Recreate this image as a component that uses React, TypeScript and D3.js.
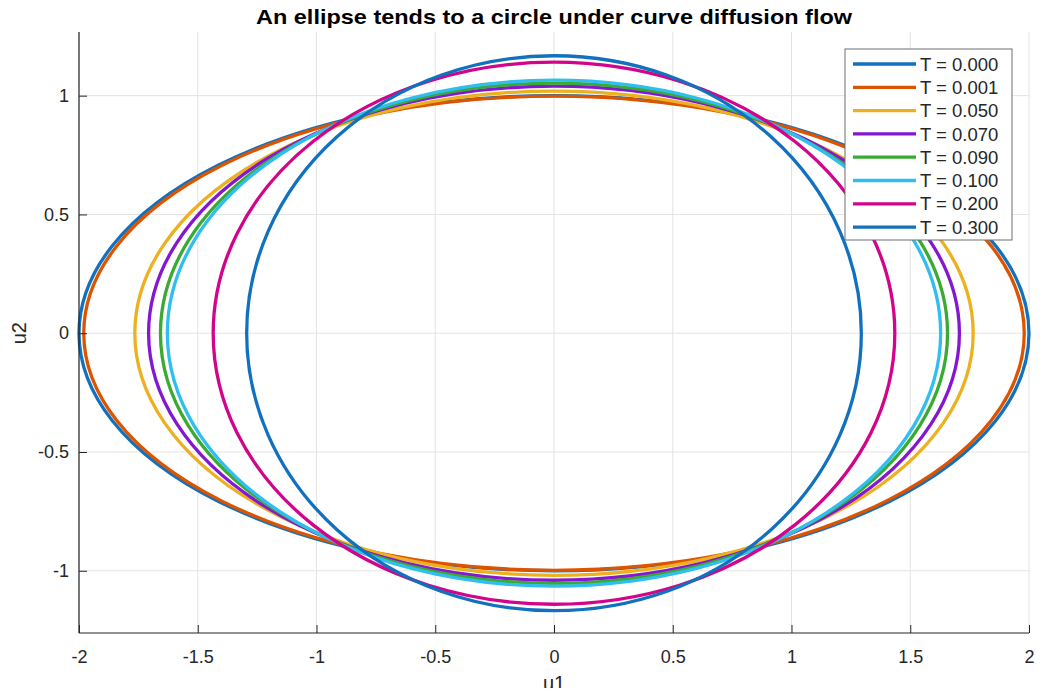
import { useEffect, useRef } from 'react';
import * as d3 from 'd3';

// times of each snapshot and the semi-axes
const times = [0.0, 0.001, 0.05, 0.07, 0.09, 0.1, 0.2, 0.3];
const semiU1 = [2.0, 1.98, 1.765, 1.707, 1.657, 1.628, 1.435, 1.294];
const semiU2 = [1.0, 0.998, 1.019, 1.04, 1.053, 1.065, 1.141, 1.168];
const colors = ['#1171BE', '#DD5400', '#EDB120', '#8516D1', '#3BAA32', '#2FBEEF', '#D1048B', '#1171BE'];

const xTicks = [-2, -1.5, -1, -0.5, 0, 0.5, 1, 1.5, 2];
const yTicks = [-1, -0.5, 0, 0.5, 1];

export default function App() {
  const svgRef = useRef<SVGSVGElement>(null);

  useEffect(() => {
    const width = 1043;
    const height = 696;
    const margin = { top: 32, right: 14, bottom: 63, left: 79 };
    const innerWidth = width - margin.left - margin.right;
    const innerHeight = height - margin.top - margin.bottom;
    const font = "'Liberation Sans', Arial, sans-serif";

    const svg = d3.select(svgRef.current)
      .attr('width', width)
      .attr('height', height);
    svg.selectAll('*').remove();

    const chart = svg.append('g')
      .attr('transform', `translate(${margin.left},${margin.top})`);

    const xScale = d3.scaleLinear().domain([-2, 2]).range([0, innerWidth]);
    const yScale = d3.scaleLinear().domain([-1.262, 1.268]).range([innerHeight, 0]);

    // grid
    chart.append('g')
      .selectAll('line')
      .data(xTicks)
      .join('line')
      .attr('x1', d => xScale(d)).attr('x2', d => xScale(d))
      .attr('y1', 0).attr('y2', innerHeight)
      .attr('stroke', '#e3e3e3').attr('stroke-width', 1);
    chart.append('g')
      .selectAll('line')
      .data(yTicks)
      .join('line')
      .attr('x1', 0).attr('x2', innerWidth)
      .attr('y1', d => yScale(d)).attr('y2', d => yScale(d))
      .attr('stroke', '#e3e3e3').attr('stroke-width', 1);

    // curves
    chart.append('g')
      .selectAll('ellipse')
      .data(times)
      .join('ellipse')
      .attr('cx', xScale(0))
      .attr('cy', yScale(0))
      .attr('rx', (d, i) => xScale(semiU1[i]) - xScale(0))
      .attr('ry', (d, i) => yScale(0) - yScale(semiU2[i]))
      .attr('fill', 'none')
      .attr('stroke', (d, i) => colors[i])
      .attr('stroke-width', 3.3);

    // axes
    const xAxis = chart.append('g')
      .attr('transform', `translate(0,${innerHeight})`)
      .call(d3.axisBottom(xScale).tickValues(xTicks).tickSize(-8).tickPadding(17).tickFormat(d => String(d)));
    const yAxis = chart.append('g')
      .call(d3.axisLeft(yScale).tickValues(yTicks).tickSize(-8).tickPadding(10).tickFormat(d => String(d)));
    [xAxis, yAxis].forEach(ax => {
      ax.select('.domain').attr('stroke', '#262626').attr('stroke-width', 1.2);
      ax.selectAll('.tick line').attr('stroke', '#262626').attr('stroke-width', 1);
      ax.selectAll('.tick text')
        .attr('fill', '#262626')
        .style('font-family', font)
        .style('font-size', '18px');
    });
    xAxis.selectAll('.domain').attr('d', `M0,0H${innerWidth}`);
    yAxis.selectAll('.domain').attr('d', `M0,${innerHeight}V0`);

    // labels
    svg.append('text')
      .attr('x', margin.left + innerWidth / 2)
      .attr('y', 24)
      .attr('text-anchor', 'middle')
      .attr('fill', '#000')
      .attr('textLength', 596)
      .attr('lengthAdjust', 'spacingAndGlyphs')
      .style('font-family', font)
      .style('font-size', '21px')
      .style('font-weight', 'bold')
      .text('An ellipse tends to a circle under curve diffusion flow');

    svg.append('text')
      .attr('x', margin.left + innerWidth / 2)
      .attr('y', 690)
      .attr('text-anchor', 'middle')
      .attr('fill', '#262626')
      .style('font-family', font)
      .style('font-size', '20px')
      .text('u1');

    svg.append('text')
      .attr('transform', `translate(26,${margin.top + yScale(0)}) rotate(-90)`)
      .attr('text-anchor', 'middle')
      .attr('fill', '#262626')
      .style('font-family', font)
      .style('font-size', '20px')
      .text('u2');

    // legend
    const legend = svg.append('g').attr('transform', 'translate(845,49)');
    legend.append('rect')
      .attr('width', 167).attr('height', 191)
      .attr('fill', '#fff')
      .attr('stroke', '#6e6e6e').attr('stroke-width', 1);
    const rows = legend.selectAll('.row')
      .data(times)
      .join('g')
      .attr('class', 'row')
      .attr('transform', (d, i) => `translate(0,${15 + i * 23.3})`);
    rows.append('line')
      .attr('x1', 8).attr('x2', 71)
      .attr('stroke', (d, i) => colors[i])
      .attr('stroke-width', 3.3);
    rows.append('text')
      .attr('x', 75)
      .attr('dy', '0.36em')
      .attr('fill', '#262626')
      .style('font-family', font)
      .style('font-size', '18.5px')
      .text(d => `T = ${d.toFixed(3)}`);
  }, []);

  return <svg ref={svgRef} style={{ display: 'block', margin: -8 }}></svg>;
}
